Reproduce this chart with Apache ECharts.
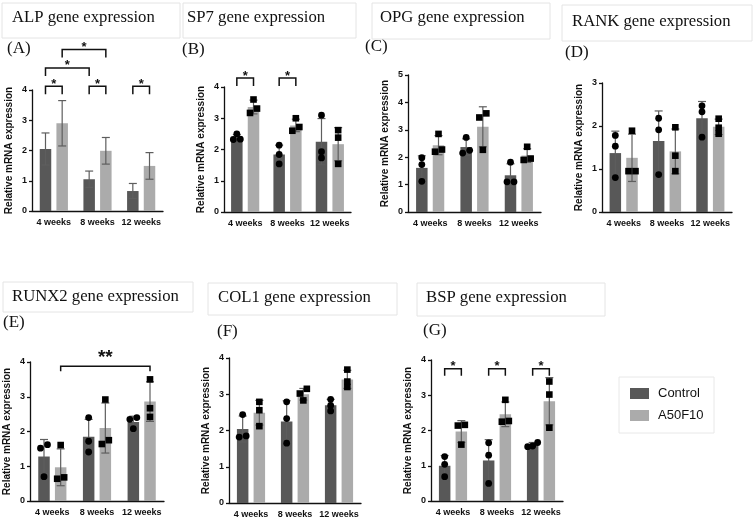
<!DOCTYPE html>
<html><head><meta charset="utf-8">
<script src="https://cdn.jsdelivr.net/npm/echarts@6/dist/echarts.min.js"></script>
<style>html,body{margin:0;padding:0;background:#fff}#chart{width:753px;height:522px}</style>
</head><body><div id="chart"></div>
<script>
const weeks = ['4 weeks', '8 weeks', '12 weeks'];
const groups = ['Control', 'A50F10'];
const yTitle = 'Relative mRNA expression';

// (A) ALP
const alpControl = [2.05, 1.05, 0.66];
const alpA50 = [2.90, 1.99, 1.49];
const alpControlSD = [0.53, 0.27, 0.25];
const alpA50SD = [0.75, 0.44, 0.44];
const alpBrackets = [[0,0,0,1,4.12],[1,0,1,1,4.12],[2,0,2,1,4.12],[0,0,1,0,4.73],[0,1,1,1,5.34]];
const alpBracketLabels = ['*','*','*','*','*'];

// (B) SP7
const sp7Control = [2.38, 1.84, 2.25];
const sp7A50 = [3.36, 2.77, 2.17];
const sp7ControlSD = [0.10, 0.30, 0.74];
const sp7A50SD = [0.22, 0.20, 0.53];
const sp7ControlPts = [[2.50, 2.32, 2.33], [2.14, 1.84, 1.54], [3.10, 1.93, 1.73]];
const sp7A50Pts = [[3.60, 3.17, 3.31], [3.00, 2.60, 2.72], [2.62, 2.38, 1.54]];
const sp7Brackets = [[0,0,0,1,4.29],[1,0,1,1,4.29]];
const sp7BracketLabels = ['*','*'];

// (C) OPG
const opgControl = [1.61, 2.37, 1.34];
const opgA50 = [2.44, 3.11, 2.06];
const opgControlSD = [0.44, 0.30, 0.42];
const opgA50SD = [0.35, 0.73, 0.25];
const opgControlPts = [[1.98, 1.73, 1.12], [2.72, 2.15, 2.25], [1.82, 1.10, 1.10]];
const opgA50Pts = [[2.85, 2.20, 2.28], [3.60, 3.45, 2.27], [2.38, 1.90, 1.95]];

// (D) RANK
const rankControl = [1.37, 1.65, 2.18];
const rankA50 = [1.26, 1.41, 1.98];
const rankControlSD = [0.51, 0.70, 0.39];
const rankA50SD = [0.55, 0.52, 0.18];
const rankControlPts = [[1.78, 1.53, 0.80], [2.18, 1.91, 0.87], [2.47, 2.33, 1.74]];
const rankA50Pts = [[1.89, 0.95, 0.95], [1.97, 1.31, 0.95], [2.17, 1.96, 1.82]];

// (E) RUNX2
const runx2Control = [1.28, 1.85, 2.27];
const runx2A50 = [0.97, 2.10, 2.86];
const runx2ControlSD = [0.49, 0.50, 0.17];
const runx2A50SD = [0.53, 0.72, 0.57];
const runx2ControlPts = [[1.62, 1.52, 0.70], [2.40, 1.72, 1.41], [2.40, 2.35, 2.08]];
const runx2A50Pts = [[1.61, 0.64, 0.68], [2.92, 1.64, 1.75], [3.50, 2.67, 2.42]];
const runx2Brackets = [[0,1,2,1,3.88]];
const runx2BracketLabels = ['**'];

// (F) COL1
const col1Control = [2.04, 2.25, 2.70];
const col1A50 = [2.49, 3.00, 3.41];
const col1ControlSD = [0.36, 0.57, 0.16];
const col1A50SD = [0.34, 0.16, 0.25];
const col1ControlPts = [[2.44, 1.82, 1.85], [2.79, 2.33, 1.65], [2.86, 2.69, 2.54]];
const col1A50Pts = [[2.79, 2.56, 2.12], [3.15, 2.83, 3.02], [3.68, 3.35, 3.20]];

// (G) BSP
const bspControl = [1.00, 1.15, 1.59];
const bspA50 = [1.97, 2.46, 2.83];
const bspControlSD = [0.29, 0.59, 0.07];
const bspA50SD = [0.31, 0.35, 0.67];
const bspControlPts = [[1.26, 1.04, 0.69], [1.65, 1.30, 0.50], [1.66, 1.54, 1.56]];
const bspA50Pts = [[2.14, 2.16, 1.60], [2.87, 2.25, 2.27], [3.39, 3.02, 2.08]];
const bspBrackets = [[0,0,0,1,3.75],[1,0,1,1,3.75],[2,0,2,1,3.75]];
const bspBracketLabels = ['*','*','*'];

// ---------- layout / style ----------
const C_DARK = '#585858', C_LIGHT = '#ababab', C_ERR = '#5e5e5e', C_AX = '#111';
const BAR_W = 11.5, BAR_GAP = 0.45;
const OFF = BAR_W * (1 + BAR_GAP) / 2;
const SANS = '"Liberation Sans", Arial, sans-serif';
const SERIF = '"Liberation Serif", "Times New Roman", serif';

const panels = [
  {tag:'(A)', title:'ALP gene expression', grid:{left:32,top:90,width:131,height:121}, max:4,
   c:alpControl, a:alpA50, csd:alpControlSD, asd:alpA50SD, cp:null, ap:null, br:alpBrackets, bl:alpBracketLabels, leg:8, star:13,
   box:[2,3,178,35], tpos:[12,18], lpos:[7,49]},
  {tag:'(B)', title:'SP7 gene expression', grid:{left:224,top:87,width:127,height:125}, max:4,
   c:sp7Control, a:sp7A50, csd:sp7ControlSD, asd:sp7A50SD, cp:sp7ControlPts, ap:sp7A50Pts, br:sp7Brackets, bl:sp7BracketLabels, leg:8, star:13,
   box:[183,3,173,35], tpos:[187,18], lpos:[182,50]},
  {tag:'(C)', title:'OPG gene expression', grid:{left:408,top:75,width:133,height:137}, max:5,
   c:opgControl, a:opgA50, csd:opgControlSD, asd:opgA50SD, cp:opgControlPts, ap:opgA50Pts, br:null,
   box:[372,3,178,36], tpos:[380,18], lpos:[365,47]},
  {tag:'(D)', title:'RANK gene expression', grid:{left:602,top:83,width:130,height:129}, max:3,
   c:rankControl, a:rankA50, csd:rankControlSD, asd:rankA50SD, cp:rankControlPts, ap:rankA50Pts, br:null,
   box:[562,5,190,36], tpos:[572,22], lpos:[565,53]},
  {tag:'(E)', title:'RUNX2 gene expression', grid:{left:30,top:362,width:134,height:139}, max:4,
   c:runx2Control, a:runx2A50, csd:runx2ControlSD, asd:runx2A50SD, cp:runx2ControlPts, ap:runx2A50Pts, br:runx2Brackets, bl:runx2BracketLabels, leg:5, star:19,
   box:[3,282,190,30], tpos:[12,297], lpos:[3,323]},
  {tag:'(F)', title:'COL1 gene expression', grid:{left:229,top:358,width:132,height:145}, max:4,
   c:col1Control, a:col1A50, csd:col1ControlSD, asd:col1A50SD, cp:col1ControlPts, ap:col1A50Pts, br:null,
   box:[208,283,189,32], tpos:[218,298], lpos:[217,332]},
  {tag:'(G)', title:'BSP gene expression', grid:{left:431,top:360,width:132,height:141}, max:4,
   c:bspControl, a:bspA50, csd:bspControlSD, asd:bspA50SD, cp:bspControlPts, ap:bspA50Pts, br:bspBrackets, bl:bspBracketLabels, leg:7, star:13,
   box:[417,283,188,33], tpos:[426,298], lpos:[423,331]}
];

// spread only markers that would overlap vertically
function jitter(vals, pxPerUnit) {
  const idx = vals.map((v, i) => i).sort((p, q) => vals[p] - vals[q]);
  const off = new Array(vals.length).fill(0);
  let cluster = [idx[0]];
  const flush = () => {
    const n = cluster.length;
    cluster.forEach((k, j) => { off[k] = n === 1 ? 0 : (n === 2 ? (j === 0 ? -3.5 : 3.5) : (j - 1) * 5); });
  };
  for (let j = 1; j < idx.length; j++) {
    if ((vals[idx[j]] - vals[idx[j - 1]]) * pxPerUnit < 5) cluster.push(idx[j]);
    else { flush(); cluster = [idx[j]]; }
  }
  flush();
  return off;
}

const grids = [], xAxes = [], yAxes = [], series = [], graphics = [];

panels.forEach((p, i) => {
  grids.push(Object.assign({containLabel:false}, p.grid));
  xAxes.push({
    type:'category', gridIndex:i, data:weeks,
    axisLine:{lineStyle:{color:C_AX, width:1.3}},
    axisTick:{alignWithLabel:true, length:4, lineStyle:{color:C_AX, width:1.3}},
    axisLabel:{interval:0, margin:7, fontFamily:SANS, fontWeight:'bold', fontSize:9, color:C_AX},
    splitLine:{show:false}
  });
  yAxes.push({
    type:'value', gridIndex:i, min:0, max:p.max, interval:1,
    name:yTitle, nameLocation:'middle', nameGap:18,
    nameTextStyle:{fontFamily:SANS, fontWeight:'bold', fontSize:10, color:C_AX},
    axisLine:{show:true, lineStyle:{color:C_AX, width:1.3}},
    axisTick:{show:true, length:3, lineStyle:{color:C_AX, width:1.3}},
    axisLabel:{margin:5, fontFamily:SANS, fontWeight:'bold', fontSize:9, color:C_AX},
    splitLine:{show:false}
  });

  series.push({type:'bar', name:groups[0], xAxisIndex:i, yAxisIndex:i, data:p.c, barWidth:BAR_W,
    barGap:(BAR_GAP*100)+'%', itemStyle:{color:C_DARK}, z:2, silent:true});
  series.push({type:'bar', name:groups[1], xAxisIndex:i, yAxisIndex:i, data:p.a, barWidth:BAR_W,
    barGap:(BAR_GAP*100)+'%', itemStyle:{color:C_LIGHT}, z:2, silent:true});

  // error bars (mean ± SD)
  const errData = [];
  weeks.forEach((w, k) => {
    errData.push([k, p.c[k], p.csd[k], 0]);
    errData.push([k, p.a[k], p.asd[k], 1]);
  });
  series.push({
    type:'custom', xAxisIndex:i, yAxisIndex:i, data:errData, z:3, silent:true, clip:false,
    encode:{x:0, y:1},
    renderItem:(params, api) => {
      const cat = api.value(0), m = api.value(1), sd = api.value(2), g = api.value(3);
      const x = api.coord([cat, m])[0] + (g === 0 ? -OFF : OFF);
      const yt = api.coord([cat, m + sd])[1];
      const yb = api.coord([cat, Math.max(0, m - sd)])[1];
      const st = {stroke:C_ERR, lineWidth:1.2};
      return {type:'group', children:[
        {type:'line', shape:{x1:x, y1:yt, x2:x, y2:yb}, style:st},
        {type:'line', shape:{x1:x-4, y1:yt, x2:x+4, y2:yt}, style:st},
        {type:'line', shape:{x1:x-4, y1:yb, x2:x+4, y2:yb}, style:st}
      ]};
    }
  });

  // individual points
  if (p.cp) {
    const pxPerUnit = p.grid.height / p.max;
    const dotData = [];
    [p.cp, p.ap].forEach((set, g) => {
      set.forEach((vals, k) => {
        const off = jitter(vals, pxPerUnit);
        vals.forEach((v, j) => dotData.push([k, v, g, off[j]]));
      });
    });
    series.push({
      type:'custom', xAxisIndex:i, yAxisIndex:i, data:dotData, z:4, silent:true, clip:false,
      encode:{x:0, y:1},
      renderItem:(params, api) => {
        const cat = api.value(0), v = api.value(1), g = api.value(2), o = api.value(3);
        const pt = api.coord([cat, v]);
        const x = pt[0] + (g === 0 ? -OFF : OFF) + o;
        if (g === 0) return {type:'circle', shape:{cx:x, cy:pt[1], r:3.4}, style:{fill:'#000'}};
        return {type:'rect', shape:{x:x-3.3, y:pt[1]-3.3, width:6.6, height:6.6}, style:{fill:'#000'}};
      }
    });
  }

  // significance brackets
  if (p.br) {
    series.push({
      type:'custom', xAxisIndex:i, yAxisIndex:i, data:p.br, z:5, silent:true, clip:false,
      encode:{x:0, y:4},
      renderItem:(params, api) => {
        const c1 = api.value(0), g1 = api.value(1), c2 = api.value(2), g2 = api.value(3), lv = api.value(4);
        const x1 = api.coord([c1, lv])[0] + (g1 === 0 ? -OFF : OFF);
        const x2 = api.coord([c2, lv])[0] + (g2 === 0 ? -OFF : OFF);
        const y = api.coord([c1, lv])[1];
        return {type:'group', children:[
          {type:'polyline', shape:{points:[[x1, y + p.leg], [x1, y], [x2, y], [x2, y + p.leg]]},
           style:{stroke:C_AX, lineWidth:1.5, fill:null}},
          {type:'text', style:{text:p.bl[params.dataIndex], x:(x1 + x2) / 2, y:y - (p.star > 15 ? 8 : 2),
            textAlign:'center', textVerticalAlign:'middle', fontFamily:SANS, fontWeight:'bold', fontSize:p.star, fill:C_AX}}
        ]};
      }
    });
  }

  // title box, title text, panel tag
  graphics.push({type:'rect', shape:{x:p.box[0], y:p.box[1], width:p.box[2], height:p.box[3]},
    style:{fill:'#fff', stroke:'#e4e4e4', lineWidth:1}, z:0});
  graphics.push({type:'text', style:{text:p.title, x:p.tpos[0], y:p.tpos[1], textVerticalAlign:'middle',
    font:'16.7px ' + SERIF, fill:'#111'}, z:1});
  graphics.push({type:'text', style:{text:p.tag, x:p.lpos[0], y:p.lpos[1], textVerticalAlign:'middle',
    font:'17px ' + SERIF, fill:'#111'}, z:1});
});

// legend frame
graphics.push({type:'rect', shape:{x:619, y:377, width:95, height:56},
  style:{fill:'#fff', stroke:'#e8e8e8', lineWidth:1}, z:0});

const chart = echarts.init(document.getElementById('chart'), null, {renderer:'canvas'});
chart.setOption({
  animation:false,
  backgroundColor:'#fff',
  grid:grids, xAxis:xAxes, yAxis:yAxes, series:series, graphic:graphics,
  legend:{data:groups, orient:'vertical', left:630, top:387, padding:0, itemGap:9,
    itemWidth:19, itemHeight:11, icon:'rect', selectedMode:false,
    textStyle:{fontFamily:SANS, fontSize:13, color:'#111', padding:[0,0,0,4]}}
});
</script></body></html>
